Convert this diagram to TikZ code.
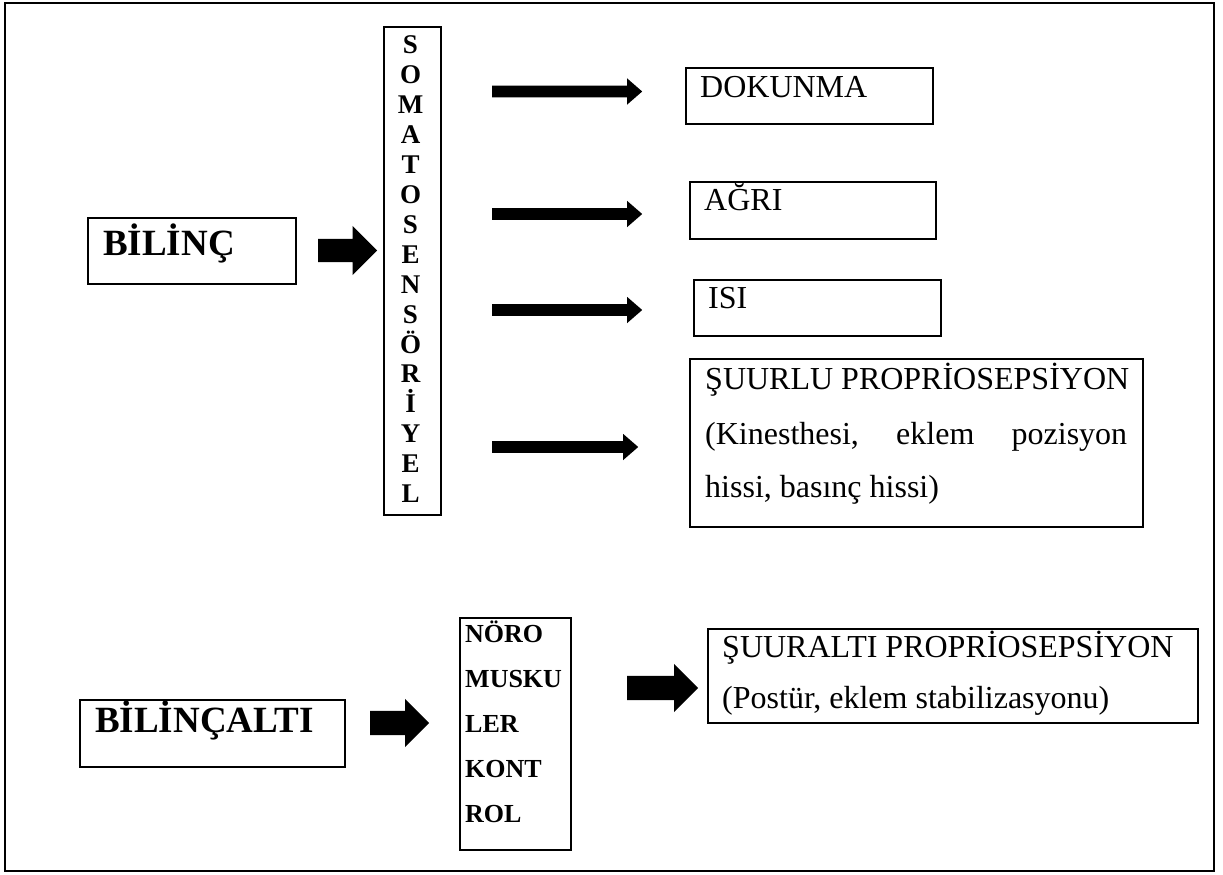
\documentclass[tikz,border=0pt]{standalone}
\usepackage{fontspec}
\setmainfont{Liberation Serif}
\usetikzlibrary{shapes.arrows}
\begin{document}
\begin{tikzpicture}[x=1pt,y=-1pt,
  outer/.style={draw, line width=2pt},
  box/.style={draw, line width=1.6pt, inner sep=0pt, anchor=north west},
  txt/.style={anchor=base west, inner sep=0pt, font=\fontsize{32}{38}\selectfont},
  headtxt/.style={anchor=base west, inner sep=0pt, font=\bfseries\fontsize{37}{44}\selectfont},
  lettertxt/.style={anchor=base, inner sep=0pt, font=\bfseries\fontsize{27}{30}\selectfont},
  smalltxt/.style={anchor=base west, inner sep=0pt, font=\bfseries\fontsize{26}{30}\selectfont},
  fatarrow/.style={single arrow, fill=black, draw=none, inner xsep=0pt, inner ysep=11.5pt,
    single arrow head extend=13pt, single arrow head indent=0pt, minimum height=59pt, anchor=tail},
  thinarrow/.style={single arrow, fill=black, draw=none, inner xsep=0pt, inner ysep=5.7pt,
    single arrow head extend=7.3pt, single arrow head indent=0pt, single arrow tip angle=82,
    minimum height=150pt, anchor=tail}
]
\useasboundingbox (0,0) rectangle (1223,875);
\draw[outer] (5,3) rectangle (1214,871);

% BILINC
\node[box, minimum width=208pt, minimum height=66pt] (bilinc) at (87,217) {};
\node[headtxt] (bilinct) at (103,255) {BİLİNÇ};
\node[fatarrow] (a1) at (318,250.5) {};

% vertical box
\node[box, minimum width=57pt, minimum height=488pt] (soma) at (383,26) {};
\foreach \l [count=\i] in {S,O,M,A,T,O,S,E,N,S,Ö,R,İ,Y,E,L}
  \node[lettertxt] (v\i) at (410.5, 54+29.9*\i-29.9) {\l};

% right boxes
\node[box, minimum width=247pt, minimum height=56pt] (dok) at (685,67) {};
\node[txt] (dokt) at (700,97) {DOKUNMA};
\node[box, minimum width=246pt, minimum height=57pt] (agri) at (689,181) {};
\node[txt] (agrit) at (704,210) {AĞRI};
\node[box, minimum width=247pt, minimum height=56pt] (isi) at (693,279) {};
\node[txt] (isit) at (708,308) {ISI};
\node[box, minimum width=453pt, minimum height=168pt] (suur) at (689,358) {};
\node[txt] (suur1) at (705,389) {ŞUURLU PROPRİOSEPSİYON};
\node[txt] (suur2) at (705,444) {\makebox[422pt][l]{(Kinesthesi,\hfill eklem\hfill pozisyon}};
\node[txt] (suur3) at (705,497) {hissi, basınç hissi)};

\node[thinarrow] (t1) at (492,91.5) {};
\node[thinarrow] (t2) at (492,214) {};
\node[thinarrow] (t3) at (492,310) {};
\node[thinarrow, minimum height=146pt] (t4) at (492,447) {};

% bottom row
\node[box, minimum width=265pt, minimum height=67pt] (alti) at (79,699) {};
\node[headtxt] (altit) at (95,732) {BİLİNÇALTI};
\node[fatarrow, inner ysep=12pt, single arrow head extend=12pt] (a2) at (370,723) {};

\node[box, minimum width=111pt, minimum height=232pt] (noro) at (459,617) {};
\foreach \w [count=\i] in {NÖRO,MUSKU,LER,KONT,ROL}
  \node[smalltxt] (n\i) at (465, 642+45*\i-45) {\w};

\node[fatarrow, inner ysep=12pt, single arrow head extend=12pt, minimum height=71pt] (a3) at (627,688) {};
\node[box, minimum width=490pt, minimum height=94pt] (alt2) at (707,628) {};
\node[txt] (alt2a) at (722,657) {ŞUURALTI PROPRİOSEPSİYON};
\node[txt] (alt2b) at (722,708) {(Postür, eklem stabilizasyonu)};
\end{tikzpicture}
\end{document}
